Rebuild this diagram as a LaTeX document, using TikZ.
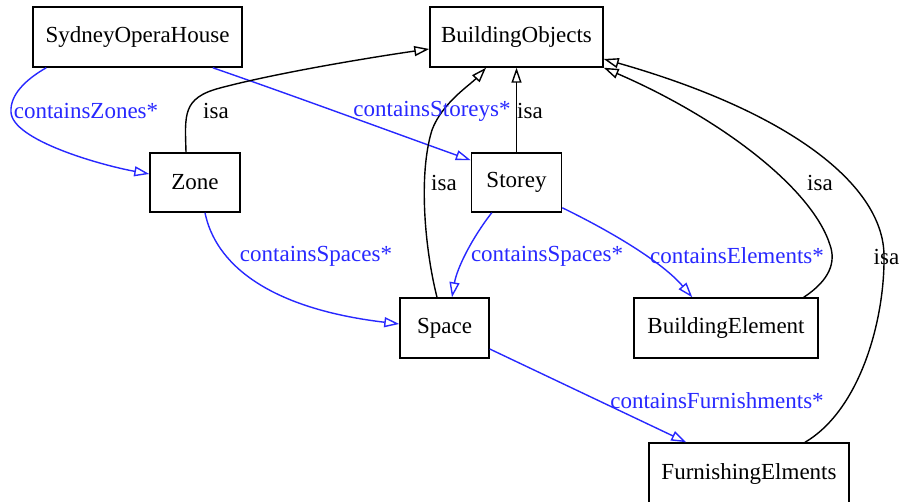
\documentclass[tikz,border=0pt]{standalone}
\usepackage{fontspec}
\setmainfont{Liberation Serif}
\usetikzlibrary{arrows.meta}
\definecolor{eblue}{RGB}{40,40,255}
\tikzset{
  box/.style={draw, line width=1.5pt, inner sep=0pt, font=\fontsize{23}{27}\selectfont},
  lbl/.style={inner sep=0pt, font=\fontsize{23}{27}\selectfont},
  blbl/.style={lbl, text=eblue},
  isaedge/.style={line width=1.4pt, -{Triangle[open,length=15pt,width=10pt]}},
  relEdge/.style={line width=1.4pt, eblue, -{Triangle[open,length=15pt,width=10pt]}},
}
\begin{document}
\begin{tikzpicture}[x=1pt,y=-1pt]
\useasboundingbox (0,0) rectangle (901,502);
\fill[white] (0,0) rectangle (901,502);
% nodes
\node[box, minimum width=209pt, minimum height=60pt] (soh) at (137.5,37) {SydneyOperaHouse};
\node[box, minimum width=173pt, minimum height=60pt] (bo) at (516.5,37) {BuildingObjects};
\node[box, minimum width=90pt, minimum height=59pt] (zone) at (195,182.5) {Zone};
\node[box, minimum width=90pt, minimum height=59pt] (storey) at (516.5,182.5) {Storey};
\node[box, minimum width=89pt, minimum height=60pt] (space) at (444.5,328) {Space};
\node[box, minimum width=184pt, minimum height=60pt] (be) at (726,328) {BuildingElement};
\node[box, minimum width=200pt, minimum height=61pt] (furn) at (749,473.5) {FurnishingElments};
% blue edges
\draw[relEdge] ([xshift=14pt]soh.south west) .. controls (25,80) and (10,95) .. (11,112)
   .. controls (12,140) and (100,165) .. ([yshift=8.5pt]zone.west);
\draw[relEdge] ([xshift=-30pt]soh.south east) .. controls (300,98) and (400,135) .. ([yshift=-8pt]storey.north west);
\draw[relEdge] ([xshift=10pt]zone.south) .. controls (215,262) and (265,308) .. ([yshift=4pt]space.west);
\draw[relEdge] ([xshift=21pt]storey.south west) .. controls (472,238) and (457,268) .. ([xshift=7.5pt]space.north);
\draw[relEdge] ([yshift=5pt]storey.south east) .. controls (612,232) and (662,262) .. ([xshift=59pt]be.north west);
\draw[relEdge] ([yshift=-21pt]space.east) -- ([xshift=38pt]furn.north west);
% isa edges
\draw[isaedge] ([xshift=-9pt]zone.north) .. controls (185,115) and (182,98) .. (220,88)
   .. controls (280,72) and (380,56) .. ([yshift=-12pt]bo.west);
\draw[isaedge] (storey.north) -- (bo.south);
\draw[isaedge] ([xshift=-7.5pt]space.north) .. controls (425,250) and (418,175) .. (432,130)
   .. controls (442,103) and (470,85) .. ([xshift=-30.5pt]bo.south);
\draw[isaedge] ([xshift=-15pt]be.north east) .. controls (830,280) and (836,262) .. (830,245)
   .. controls (812,188) and (720,118) .. (bo.south east);
\draw[isaedge] ([xshift=56pt]furn.north) .. controls (860,410) and (885,320) .. (884,255)
   .. controls (883,185) and (790,112) .. ([yshift=-22pt]bo.east);
% labels
\node[blbl] (l1) at (86,111) {containsZones*};
\node[lbl] (l2) at (216,111) {isa};
\node[blbl] (l3) at (432,111) {containsStoreys*};
\node[lbl] (l4) at (530,111) {isa};
\node[lbl] (l5) at (444,183) {isa};
\node[lbl] (l6) at (820,183) {isa};
\node[lbl] (l7) at (886.5,257) {isa};
\node[blbl] (l8) at (316,256) {containsSpaces*};
\node[blbl] (l9) at (547,256) {containsSpaces*};
\node[blbl] (l10) at (737,256) {containsElements*};
\node[blbl] (l11) at (717,401) {containsFurnishments*};
\end{tikzpicture}
\end{document}
